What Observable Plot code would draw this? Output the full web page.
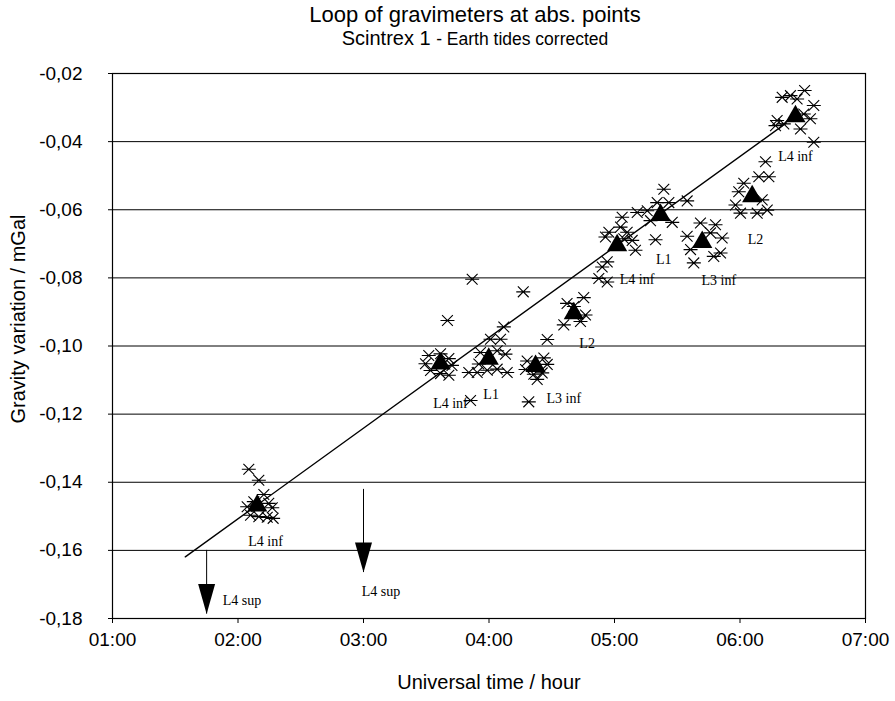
<!DOCTYPE html>
<html>
<head>
<meta charset="utf-8">
<script src="https://cdn.jsdelivr.net/npm/d3@7"></script>
<script src="https://cdn.jsdelivr.net/npm/@observablehq/plot@0.6"></script>
<style>
  body { margin: 0; background: #fff; }
  #head { position: relative; width: 895px; height: 52px; font-family: "Liberation Sans", Arial, sans-serif; color: #000; }
  #title { position: absolute; left: 0; width: 950px; top: 3px; text-align: center; font-size: 22px; line-height: 24px; }
  #subtitle { position: absolute; left: 0; width: 950px; top: 27px; text-align: center; font-size: 20px; line-height: 22px; }
  #subtitle small { font-size: 17.5px; }
</style>
</head>
<body>
<div id="head">
  <div id="title">Loop of gravimeters at abs. points</div>
  <div id="subtitle">Scintrex 1 <small>- Earth tides corrected</small></div>
</div>
<div id="chart"></div>
<script>
// Individual gravimeter readings (UT in decimal hours, gravity variation in mGal)
const readTime = [
  2.086, 2.166, 2.206, 2.073, 2.126, 2.245, 2.273, 2.100, 2.166, 2.233, 2.280,
  3.520, 3.614, 3.680, 3.494, 3.705, 3.614, 3.680, 3.534, 3.669, 3.866, 3.853,
  3.932, 4.065, 4.131, 4.012, 4.092, 4.118, 3.839, 3.906, 3.986, 4.065, 4.145, 3.919, 4.273,
  4.304, 4.437, 4.464, 4.291, 4.357, 4.424, 4.384, 4.317, 4.464,
  4.622, 4.755, 4.676, 4.596, 4.729, 4.769,
  4.955, 5.048, 5.101, 5.141, 5.167, 4.928, 5.074, 4.942, 4.902, 4.875, 4.942, 5.061,
  5.393, 5.340, 5.433, 5.579, 5.261, 5.181, 5.460, 5.287, 5.327,
  5.685, 5.805, 5.765, 5.579, 5.858, 5.606, 5.845, 5.791, 5.632,
  6.203, 6.150, 6.230, 6.030, 5.990, 6.177, 5.964, 6.004, 6.137, 6.217,
  6.515, 6.336, 6.402, 6.455, 6.588, 6.296, 6.349, 6.508, 6.561, 6.482, 6.588, 6.283
];
const readGravity = [
  -0.1362, -0.1394, -0.1436, -0.1472, -0.1457, -0.1462, -0.1475, -0.1497, -0.1501, -0.1503, -0.1506,
  -0.1028, -0.1023, -0.1037, -0.1052, -0.1057, -0.1081, -0.1086, -0.1072, -0.0925, -0.0804, -0.1160,
  -0.1019, -0.1014, -0.1024, -0.0980, -0.0980, -0.0944, -0.1078, -0.1078, -0.1071, -0.1068, -0.1078, -0.1053, -0.0841,
  -0.1044, -0.1035, -0.1054, -0.1069, -0.1083, -0.1079, -0.1098, -0.1164, -0.0981,
  -0.0875, -0.0858, -0.0884, -0.0938, -0.0928, -0.0909,
  -0.0666, -0.0651, -0.0666, -0.0690, -0.0719, -0.0680, -0.0685, -0.0753, -0.0768, -0.0802, -0.0812, -0.0622,
  -0.0540, -0.0579, -0.0579, -0.0574, -0.0603, -0.0608, -0.0637, -0.0632, -0.0688,
  -0.0639, -0.0644, -0.0668, -0.0678, -0.0683, -0.0717, -0.0727, -0.0737, -0.0756,
  -0.0459, -0.0503, -0.0503, -0.0522, -0.0547, -0.0571, -0.0586, -0.0610, -0.0610, -0.0601,
  -0.0250, -0.0270, -0.0265, -0.0275, -0.0294, -0.0338, -0.0348, -0.0319, -0.0333, -0.0363, -0.0402, -0.0353
];

// Mean value at each station occupation
const stationTime    = [2.153, 3.614, 3.998, 4.371, 4.676, 5.021, 5.367, 5.699, 6.097, 6.442];
const stationGravity = [-0.1469, -0.1052, -0.1038, -0.1059, -0.0904, -0.0705, -0.0616, -0.0695, -0.0561, -0.0326];

// Linear drift fit
const fitTime    = [1.58, 6.37];
const fitGravity = [-0.1619, -0.0345];

// L4 sup readings lie off scale: arrows pointing down
const arrowTime = [1.75, 3.0];
const arrowFrom = [-0.160, -0.1421];
const arrowTo   = [-0.1787, -0.1665];

// Station names
const labelText    = ["L4 inf", "L4 sup", "L4 sup", "L4 inf", "L1", "L3 inf", "L2", "L4 inf", "L1", "L3 inf", "L2", "L4 inf"];
const labelTime    = [2.219, 2.031, 3.139, 3.693, 4.017, 4.596, 4.782, 5.180, 5.393, 5.831, 6.124, 6.442];
const labelGravity = [-0.1574, -0.1748, -0.1720, -0.1169, -0.1141, -0.1153, -0.0992, -0.0806, -0.0745, -0.0808, -0.0686, -0.0443];

// Axis ticks
const hourTicks = [1, 2, 3, 4, 5, 6, 7];
const gravityTicks = [-0.18, -0.16, -0.14, -0.12, -0.10, -0.08, -0.06, -0.04, -0.02];

const readings = readTime.map((t, i) => ({time: t, gravity: readGravity[i]}));
const stations = stationTime.map((t, i) => ({time: t, gravity: stationGravity[i]}));
const fit = fitTime.map((t, i) => ({time: t, gravity: fitGravity[i]}));
const arrows = arrowTime.map((t, i) => ({time: t, from: arrowFrom[i], to: arrowTo[i]}));
const labels = labelText.map((s, i) => ({text: s, time: labelTime[i], gravity: labelGravity[i]}));

// Star-shaped marker: a cross with a horizontal bar
const asterisk = {
  draw(context) {
    const w = 7, d = 5.4;
    context.moveTo(-w, 0); context.lineTo(w, 0);
    context.moveTo(-d, -d); context.lineTo(d, d);
    context.moveTo(-d, d); context.lineTo(d, -d);
  }
};

// Long narrow arrowhead whose tip sits at the anchor point
const arrowHead = {
  draw(context) {
    context.moveTo(0, 0);
    context.lineTo(-8.5, -30);
    context.lineTo(8.5, -30);
    context.closePath();
  }
};

const hourFormat = d => String(d).padStart(2, "0") + ":00";
const gravityFormat = d => d.toFixed(2).replace(".", ",");

const chart = Plot.plot({
  width: 895,
  height: 649,
  marginLeft: 112,
  marginRight: 30,
  marginTop: 21,
  marginBottom: 83,
  style: {fontFamily: "'Liberation Sans', Arial, sans-serif", fontSize: "19px", color: "#000", background: "#fff"},
  x: {domain: [1, 7], label: null},
  y: {domain: [-0.18, -0.02], label: null},
  marks: [
    Plot.gridY(gravityTicks, {stroke: "#000", strokeOpacity: 1, strokeWidth: 1}),
    Plot.frame({stroke: "#000", strokeWidth: 1.2}),
    Plot.axisX(hourTicks, {tickFormat: hourFormat, tickSize: 5, tickPadding: 9, fontSize: 19}),
    Plot.axisY(gravityTicks, {tickFormat: gravityFormat, tickSize: 4, tickPadding: 26, fontSize: 19}),
    Plot.line(fit, {x: "time", y: "gravity", stroke: "#000", strokeWidth: 1.4}),
    Plot.dot(readings, {x: "time", y: "gravity", symbol: asterisk, r: 4, stroke: "#000", strokeWidth: 1.1, fill: "none"}),
    Plot.dot(stations, {x: "time", y: "gravity", symbol: "triangle", r: 7.5, fill: "#000", stroke: "none"}),
    Plot.ruleX(arrows, {x: "time", y1: "from", y2: "to", stroke: "#000", strokeWidth: 1}),
    Plot.dot(arrows, {x: "time", y: "to", symbol: arrowHead, r: 5, fill: "#000", stroke: "none"}),
    Plot.text(labels, {x: "time", y: "gravity", text: "text", fontFamily: "'Liberation Serif', 'Times New Roman', serif", fontSize: 14, fill: "#000"}),
    Plot.text(["Universal time / hour"], {frameAnchor: "bottom", dy: 70, fontSize: 20, fill: "#000"}),
    Plot.text(["Gravity variation / mGal"], {frameAnchor: "left", textAnchor: "middle", dx: -94, dy: -27, rotate: -90, fontSize: 20, fill: "#000"})
  ]
});
document.getElementById("chart").appendChild(chart);
</script>
</body>
</html>
